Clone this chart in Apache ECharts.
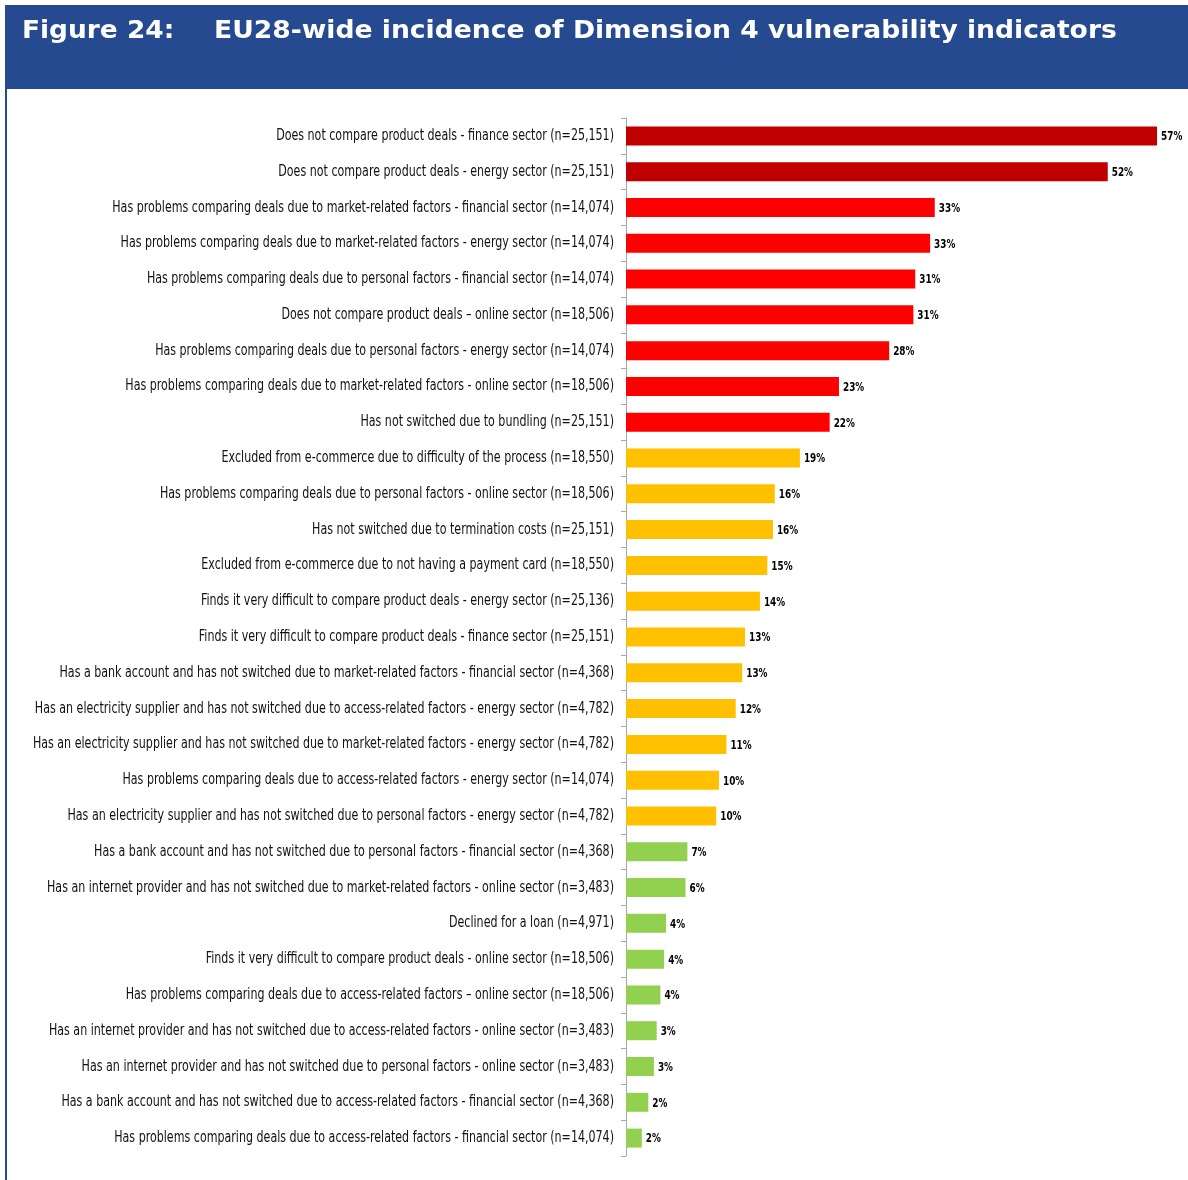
<!DOCTYPE html>
<html>
<head>
<meta charset="utf-8">
<script src="https://cdn.jsdelivr.net/npm/echarts@6/dist/echarts.min.js"></script>
<style>
  html, body { margin: 0; padding: 0; background: #ffffff; }
  #chart { width: 1188px; height: 1180px; }
</style>
</head>
<body>
<div id="chart"></div>
<script>
// Indicators, listed top to bottom
const categories = [
  'Does not compare product deals - finance sector (n=25,151)',
  'Does not compare product deals - energy sector (n=25,151)',
  'Has problems comparing deals due to market-related factors - financial sector (n=14,074)',
  'Has problems comparing deals due to market-related factors - energy sector (n=14,074)',
  'Has problems comparing deals due to personal factors - financial sector (n=14,074)',
  'Does not compare product deals \u2013 online sector (n=18,506)',
  'Has problems comparing deals due to personal factors - energy sector (n=14,074)',
  'Has problems comparing deals due to market-related factors - online sector (n=18,506)',
  'Has not switched due to bundling (n=25,151)',
  'Excluded from e-commerce due to difficulty of the process (n=18,550)',
  'Has problems comparing deals due to personal factors - online sector (n=18,506)',
  'Has not switched due to termination costs (n=25,151)',
  'Excluded from e-commerce due to not having a payment card (n=18,550)',
  'Finds it very difficult to compare product deals - energy sector (n=25,136)',
  'Finds it very difficult to compare product deals - finance sector (n=25,151)',
  'Has a bank account and has not switched due to market-related factors - financial sector (n=4,368)',
  'Has an electricity supplier and has not switched due to access-related factors - energy sector (n=4,782)',
  'Has an electricity supplier and has not switched due to market-related factors - energy sector (n=4,782)',
  'Has problems comparing deals due to access-related factors - energy sector (n=14,074)',
  'Has an electricity supplier and has not switched due to personal factors - energy sector (n=4,782)',
  'Has a bank account and has not switched due to personal factors - financial sector (n=4,368)',
  'Has an internet provider and has not switched due to market-related factors - online sector (n=3,483)',
  'Declined for a loan (n=4,971)',
  'Finds it very difficult to compare product deals - online sector (n=18,506)',
  'Has problems comparing deals due to access-related factors \u2013 online sector (n=18,506)',
  'Has an internet provider and has not switched due to access-related factors - online sector (n=3,483)',
  'Has an internet provider and has not switched due to personal factors - online sector (n=3,483)',
  'Has a bank account and has not switched due to access-related factors - financial sector (n=4,368)',
  'Has problems comparing deals due to access-related factors - financial sector (n=14,074)'
];

// Share of respondents (%)
const incidence = [
  57.1, 51.8, 33.2, 32.7, 31.1, 30.9, 28.3, 22.9, 21.9,
  18.7, 16.0, 15.8, 15.2, 14.4, 12.8, 12.5, 11.8, 10.8, 10.0, 9.7,
  6.6, 6.4, 4.3, 4.1, 3.7, 3.3, 3.0, 2.4, 1.7
];

// Incidence band of each indicator
const bands = [
  'very high', 'very high',
  'high', 'high', 'high', 'high', 'high', 'high', 'high',
  'medium', 'medium', 'medium', 'medium', 'medium', 'medium', 'medium', 'medium', 'medium', 'medium', 'medium',
  'low', 'low', 'low', 'low', 'low', 'low', 'low', 'low', 'low'
];

const figureNumber = 'Figure 24:';
const figureTitle = 'EU28-wide incidence of Dimension 4 vulnerability indicators';

const bandColors = {
  'very high': '#C00000',
  'high': '#FF0000',
  'medium': '#FFC000',
  'low': '#92D050'
};

const NARROW = '"Liberation Sans Narrow", "DejaVu Sans Condensed", sans-serif';
const LABEL_FONT = '15.5px ' + NARROW;
const VALUE_FONT = 'bold 13px ' + NARROW;
const TITLE_FONT = 'bold 24px "DejaVu Sans", Verdana, sans-serif';

const pct = v => Math.round(v) + '%';

const chart = echarts.init(document.getElementById('chart'));

chart.setOption({
  backgroundColor: '#ffffff',
  animation: false,
  graphic: [
    // Banner and left rule
    { type: 'rect', shape: { x: 5, y: 5, width: 1183, height: 84 }, style: { fill: '#254A8F' }, z: 0 },
    { type: 'rect', shape: { x: 5, y: 89, width: 2, height: 1091 }, style: { fill: '#254A8F' }, z: 0 },
    {
      type: 'text', x: 22, y: 32, scaleX: 1.1, z: 1,
      style: { text: figureNumber, font: TITLE_FONT, fill: '#ffffff', verticalAlign: 'middle' }
    },
    {
      type: 'text', x: 214, y: 32, scaleX: 1.108, z: 1,
      style: { text: figureTitle, font: TITLE_FONT, fill: '#ffffff', verticalAlign: 'middle' }
    }
  ],
  grid: { left: 626, top: 118, width: 558, bottom: 24, containLabel: false, outerBoundsMode: 'none' },
  xAxis: {
    type: 'value',
    min: 0, max: 60,
    show: false
  },
  yAxis: {
    type: 'category',
    inverse: true,
    data: categories,
    axisLine: { show: true, lineStyle: { color: '#A6A6A6', width: 1 } },
    axisTick: { show: true, length: 5, lineStyle: { color: '#A6A6A6' } },
    axisLabel: { show: false },
    splitLine: { show: false }
  },
  series: [
    {
      type: 'bar',
      barWidth: 19,
      data: incidence.map((v, i) => ({ value: v, itemStyle: { color: bandColors[bands[i]] } }))
    },
    {
      // Value labels at the end of each bar, in a condensed bold face
      type: 'custom',
      clip: false,
      silent: true,
      encode: { x: 0, y: 1 },
      data: incidence.map((v, i) => [v, i]),
      renderItem: (params, api) => {
        const v = api.value(0);
        const pt = api.coord([v, api.value(1)]);
        return {
          type: 'text',
          x: pt[0] + 4,
          y: pt[1] + 1,
          scaleX: 0.76,
          style: {
            text: pct(v),
            align: 'left',
            verticalAlign: 'middle',
            font: VALUE_FONT,
            fill: '#000000'
          }
        };
      }
    },
    {
      // Category names, set in a condensed face next to the axis
      type: 'custom',
      clip: false,
      silent: true,
      encode: { x: 0, y: 1 },
      data: categories.map((c, i) => [0, i]),
      renderItem: (params, api) => {
        const idx = api.value(1);
        const pt = api.coord([0, idx]);
        return {
          type: 'text',
          x: pt[0] - 12,
          y: pt[1],
          scaleX: 0.795,
          style: {
            text: categories[idx],
            align: 'right',
            verticalAlign: 'middle',
            font: LABEL_FONT,
            fill: '#111111'
          }
        };
      }
    }
  ]
});
</script>
</body>
</html>
